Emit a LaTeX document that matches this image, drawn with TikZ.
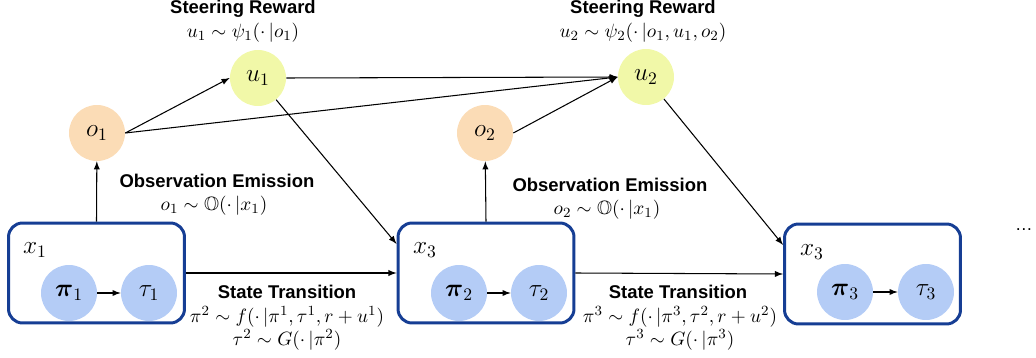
\documentclass[tikz,border=0pt]{standalone}
\usepackage{amsmath,amssymb}
\usepackage{fontspec}
\setmainfont{Liberation Sans}
\usetikzlibrary{positioning}

\definecolor{boxblue}{RGB}{22,62,148}
\definecolor{policyblue}{RGB}{180,204,246}
\definecolor{obspeach}{RGB}{251,220,182}
\definecolor{rewyellow}{RGB}{241,248,168}

\begin{document}
\begin{tikzpicture}[x=0.02cm,y=-0.02cm,
    state/.style={draw=boxblue, line width=1.7pt, rounded corners=8pt,
        minimum width=3.52cm, minimum height=2.0cm},
    ball/.style={circle, minimum size=1.12cm, inner sep=0pt, font=\Large},
    title/.style={font=\bfseries\fontsize{10.5}{12}\selectfont, inner sep=0pt},
    formula/.style={font=\fontsize{11}{13}\selectfont, inner sep=0pt},
    link/.style={-latex, line width=0.6pt}]
    \useasboundingbox (0,0) rectangle (1036,358);

    % Define states
    \node[state] (box1) at (96.5,273) {};
    \node[state] (box2) at (486,273) {};
    \node[state] (box3) at (872.5,274) {};
    \node at (35,250) {\Large $x_1$};
    \node at (425,250) {\Large $x_3$};
    \node at (812,252) {\Large $x_3$};

    % Policy and trajectory inside each state
    \foreach \i/\px/\tx/\y in {1/69/149/293, 2/459/539/293, 3/845/926/292}{
        \node[ball, fill=policyblue] (pi\i) at (\px,\y) {$\boldsymbol{\pi}_\i$};
        \node[ball, fill=policyblue] (tau\i) at (\tx,\y) {$\tau_\i$};
        \draw[link] (pi\i) -- (tau\i);
    }

    % Observations and steering rewards
    \node[ball, fill=obspeach] (o1) at (97,133) {$o_1$};
    \node[ball, fill=rewyellow] (u1) at (258,78) {$u_1$};
    \node[ball, fill=obspeach] (o2) at (485,133) {$o_2$};
    \node[ball, fill=rewyellow] (u2) at (646,77) {$u_2$};

    % Draw connectors
    \draw[link] (box1.north) -- (o1);
    \draw[link] (box2.north) -- (o2);
    \draw[link] (o1.east) -- (u1.west);
    \draw[link] (o1.east) -- (u2.west);
    \draw[link] (u1.east) -- (u2.west);
    \draw[link] (o2.east) -- (u2.west);
    \draw[link] (u1) -- (box2.162);
    \draw[link] (u2) -- (box3.162);
    \draw[link] (box1.east) -- (box2.west);
    \draw[link] (box2.east) -- (box3.west);

    % Add labels
    \node[title] (sr1) at (243,9) {Steering Reward};
    \node[formula] (sr1f) at (243,33) {$u_1\sim\psi_1(\cdot\,|o_1)$};
    \node[title] (sr2) at (643,9) {Steering Reward};
    \node[formula] (sr2f) at (643,33) {$u_2\sim\psi_2(\cdot\,|o_1,u_1,o_2)$};

    \node[title] (oe1) at (217,181) {Observation Emission};
    \node[formula] (oe1f) at (214,206) {$o_1\sim\mathbb{O}(\cdot\,|x_1)$};
    \node[title] (oe2) at (610,185) {Observation Emission};
    \node[formula] (oe2f) at (607,210) {$o_2\sim\mathbb{O}(\cdot\,|x_1)$};

    \node[title] (st1) at (287,292) {State Transition};
    \node[formula] (st1f) at (287,317) {$\pi^2\sim f(\cdot\,|\pi^1,\tau^1,r+u^1)$};
    \node[formula] (st1g) at (287,340) {$\tau^2\sim G(\cdot\,|\pi^2)$};
    \node[title] (st2) at (678,292) {State Transition};
    \node[formula] (st2f) at (680,317) {$\pi^3\sim f(\cdot\,|\pi^3,\tau^2,r+u^2)$};
    \node[formula] (st2g) at (680,340) {$\tau^3\sim G(\cdot\,|\pi^3)$};

    \node (dots) at (1024,230) {\dots};

\end{tikzpicture}
\end{document}
